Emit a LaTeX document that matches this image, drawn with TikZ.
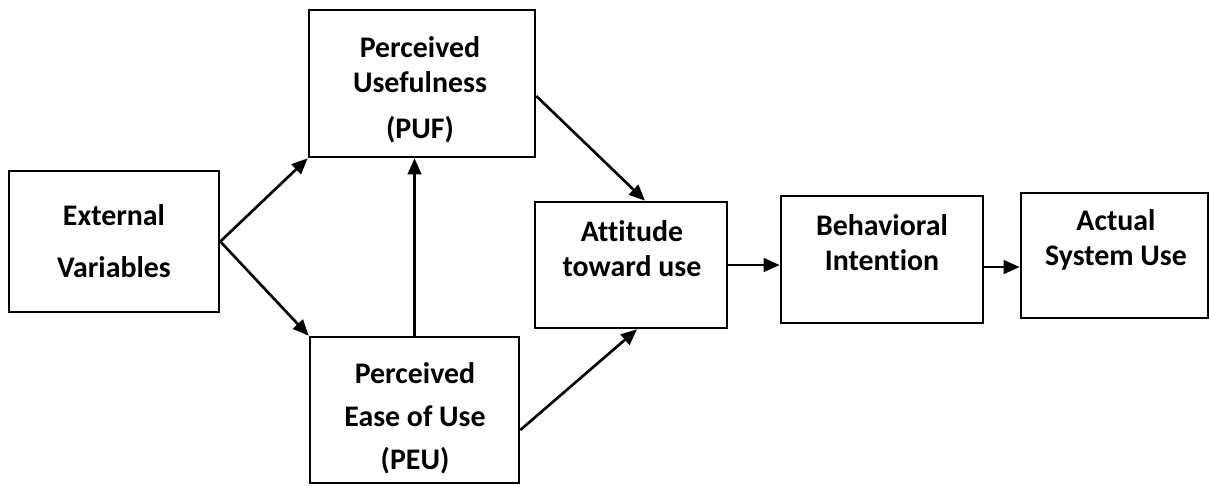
\documentclass[tikz,border=0pt]{standalone}
\usepackage{fontspec}
\setmainfont{Carlito}[Ligatures=CommonOff]
\usetikzlibrary{arrows.meta}

\begin{document}
\begin{tikzpicture}[
  x=0.02cm, y=-0.02cm,
  box/.style={draw, line width=1.5pt, inner sep=0pt},
  txt/.style={align=center, font=\fontsize{17pt}{20pt}\selectfont\bfseries},
  arr/.style={line width=1.5pt, -{Triangle[length=0.32cm,width=0.27cm]}},
]
\useasboundingbox (0,0) rectangle (1209,485);

  % boxes
  \node[box, minimum width=4.2cm, minimum height=2.82cm] (ext) at (114,241.5) {};
  \node[box, minimum width=4.52cm, minimum height=2.94cm] (puf) at (422,83.5) {};
  \node[box, minimum width=4.18cm, minimum height=2.92cm] (peu) at (414.5,410) {};
  \node[box, minimum width=3.84cm, minimum height=2.52cm] (att) at (631,265) {};
  \node[box, minimum width=4.04cm, minimum height=2.54cm] (bi) at (882,259.5) {};
  \node[box, minimum width=3.74cm, minimum height=2.5cm] (asu) at (1114.5,255.5) {};

  % texts
  \node[txt] (extT) at (114,241) {External\\[9.6pt]Variables};
  \node[txt] (pufT) at (420,90) {Perceived\\Usefulness\\[6pt](PUF)};
  \node[txt] (peuT) at (415,418) {Perceived\\[4.5pt]Ease of Use\\[4.5pt](PEU)};
  \node[txt] (attT) at (632,248.5) {Attitude\\toward use};
  \node[txt] (biT) at (882,242.5) {Behavioral\\Intention};
  \node[txt] (asuT) at (1116,240) {Actual\\System Use};

  % arrows
  \draw[arr] (ext.east) -- (puf.south west);
  \draw[arr] (ext.east) -- (peu.north west);
  \draw[arr] (peu.north) -- (peu.north |- puf.south);
  \draw[arr] ([yshift=-0.25cm]puf.east) -- ([xshift=0.28cm]att.north);
  \draw[arr] ([yshift=-0.4cm]peu.east) -- ([xshift=0.12cm]att.south);
  \draw[arr] (att.east) -- (att.east -| bi.west);
  \draw[arr] ([yshift=-0.15cm]bi.east) -- ([yshift=-0.15cm]bi.east -| asu.west);
\end{tikzpicture}
\end{document}
